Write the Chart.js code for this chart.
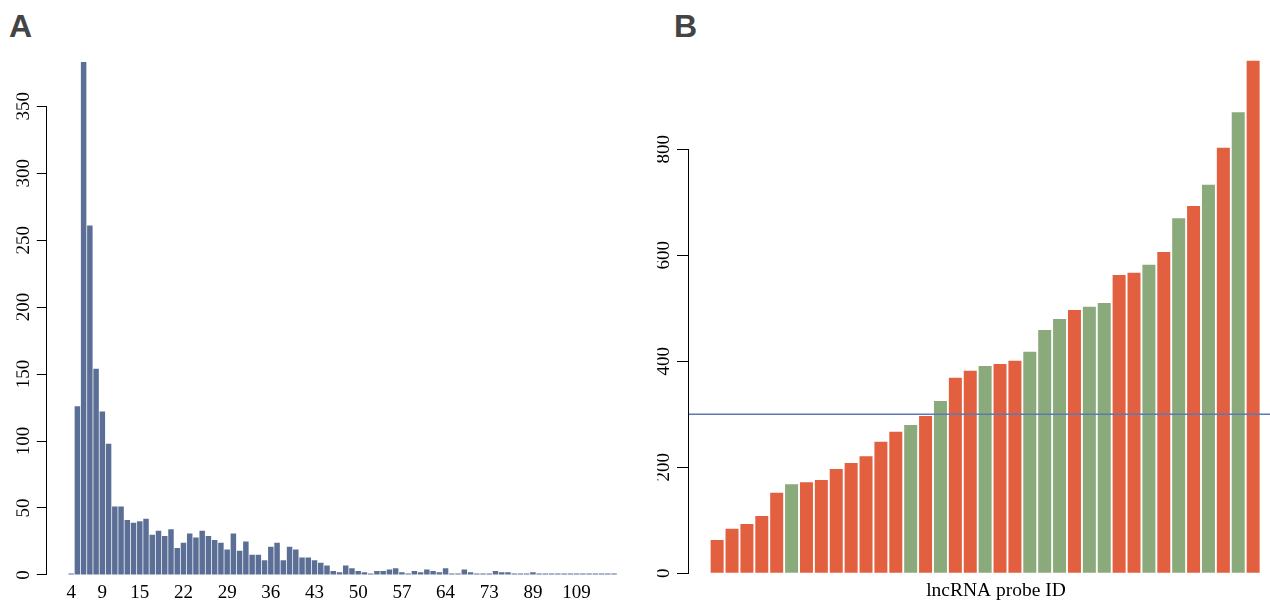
<!DOCTYPE html>
<html>
<head>
<meta charset="utf-8">
<script src="https://cdn.jsdelivr.net/npm/chart.js@4.4.1/dist/chart.umd.min.js"></script>
<style>
html,body{margin:0;padding:0;background:#fff;overflow:hidden;width:1270px;height:601px}
canvas{position:absolute;top:0}
.tag{position:absolute;font:bold 32px "Liberation Sans",Arial,sans-serif;color:#444;line-height:32px}
</style>
</head>
<body>
<div class="tag" style="left:9px;top:10px">A</div>
<div class="tag" style="left:674px;top:10px">B</div>
<canvas id="histChart" width="660" height="620" style="left:0"></canvas>
<canvas id="probeChart" width="680" height="610" style="left:640px"></canvas>
<script>
// panel A: counts per length
const histCategories = [4,5,6,7,8,9,10,11,12,13,14,15,16,17,18,19,20,21,22,23,24,25,26,27,28,29,30,31,32,33,34,35,36,37,38,39,40,41,42,43,44,45,46,47,48,49,50,51,52,53,54,55,56,57,58,59,60,61,62,63,64,
  65,66,67,68,69,71,73,74,75,77,79,82,85,89,91,93,96,99,102,105,109,112,118,126,135,150,178];
const histCounts = [1,126,383,261,154,122,98,51,51,41,39,40,42,30,33,29,34,20,24,31,28,33,29,26,24,19,31,18,25,15,15,11,21,24,11,21,19,13,13,11,9,
  7,3,2,7,5,3,2,1,3,3,4,5,2,1,3,2,4,3,2,5,1,1,4,2,1,1,1,3,2,2,1,1,1,2,1,1,1,1,1,1,1,1,1,1,1,1,1];
const histTickIdx = [0,5,11,18,25,32,39,46,53,60,67,74,81]; // labels R left visible
const histYTicks = [0,50,100,150,200,250,300,350];

// panel B: probe values
const probeValues = [63,84,93,108,152,168,172,176,197,208,221,248,267,280,297,325,369,382,391,395,401,418,459,480,497,503,510,563,567,582,606,670,693,733,803,870,967];
const probeGroup = ['r','r','r','r','r','g','r','r','r','r','r','r','r','g','r','g','r','r','g','r','r','g','g','g','r','g','g','r','r','g','r','g','r','g','r','g','r'];
const probeYTicks = [0,200,400,600,800];
const cutoff = 300;

const RED = '#E2603F', GREEN = '#8BAA7C', HISTBLUE = '#5B6F96', LINEBLUE = '#5A7AB2';

Chart.defaults.font.family = 'Liberation Serif';
Chart.defaults.color = '#000';

// R style y axis line: only from 0 to the last tick
const axisLine = {
  id: 'axisLine',
  afterDraw(chart) {
    const y = chart.scales.y, ctx = chart.ctx;
    const x = Math.round(chart.chartArea.left) - 0.5;
    const top = Math.round(y.getPixelForValue(y.ticks[y.ticks.length-1].value) - 0.5);
    const bot = Math.round(y.getPixelForValue(0) - 0.5) + 1;
    ctx.save();
    ctx.strokeStyle = '#000';
    ctx.lineWidth = 1;
    ctx.beginPath();
    ctx.moveTo(x, bot);
    ctx.lineTo(x, top);
    ctx.stroke();
    ctx.restore();
  }
};

new Chart(document.getElementById('histChart'), {
  type: 'bar',
  data: {
    datasets: [{
      data: histCounts.map((v,i) => ({x:i, y:v})),
      backgroundColor: HISTBLUE,
      categoryPercentage: 1,
      barPercentage: 0.88
    }]
  },
  options: {
    responsive: false, animation: false, devicePixelRatio: 1,
    layout: {padding: {left: 16.4, right: 21.6, top: 52.7, bottom: 8.9}},
    plugins: {legend: {display: false}, tooltip: {enabled: false}},
    scales: {
      x: {
        type: 'linear', min: -3.9, max: 90.9, offset: false,
        grid: {display: false, drawTicks: false}, border: {display: false},
        afterBuildTicks: s => { s.ticks = histTickIdx.map(v => ({value: v})); },
        ticks: {autoSkip: false, maxRotation: 0, padding: 6.7, font: {size: 19},
          callback: v => histCategories[v]}
      },
      y: {
        min: 0, max: 390,
        grid: {drawOnChartArea: false, tickLength: 10, tickColor: '#000'},
        border: {display: false},
        afterBuildTicks: s => { s.ticks = histYTicks.map(v => ({value: v})); },
        ticks: {minRotation: 90, maxRotation: 90,
          crossAlign: 'center', padding: -1.2, font: {size: 19}}
      }
    }
  },
  plugins: [axisLine]
});

const xMinB = -1.89, xMaxB = 39.35;
new Chart(document.getElementById('probeChart'), {
  type: 'bar',
  data: {
    datasets: [{
      type: 'line',
      data: [{x: xMinB, y: cutoff}, {x: xMaxB, y: cutoff}],
      borderColor: LINEBLUE, borderWidth: 1.5, pointRadius: 0, order: 0
    }, {
      data: probeValues.map((v,i) => ({x:i, y:v})),
      backgroundColor: probeGroup.map(g => g === 'r' ? RED : GREEN),
      categoryPercentage: 1,
      barPercentage: 0.873,
      order: 1
    }]
  },
  options: {
    responsive: false, animation: false, devicePixelRatio: 1,
    layout: {padding: {left: 17.2, right: 17, top: 53.9, bottom: 7.9}},
    plugins: {legend: {display: false}, tooltip: {enabled: false}},
    scales: {
      x: {
        type: 'linear', min: xMinB, max: xMaxB, offset: false,
        grid: {display: false, drawTicks: false}, border: {display: false},
        ticks: {display: false},
        title: {display: true, text: 'lncRNA probe ID', font: {size: 19.5}, padding: {top: 5.4, bottom: 0}}
      },
      y: {
        min: 0, max: 980,
        grid: {drawOnChartArea: false, tickLength: 12, tickColor: '#000'},
        border: {display: false},
        afterBuildTicks: s => { s.ticks = probeYTicks.map(v => ({value: v})); },
        ticks: {minRotation: 90, maxRotation: 90,
          crossAlign: 'center', padding: -1.5, font: {size: 19}}
      }
    }
  },
  plugins: [axisLine]
});
</script>
</body>
</html>
